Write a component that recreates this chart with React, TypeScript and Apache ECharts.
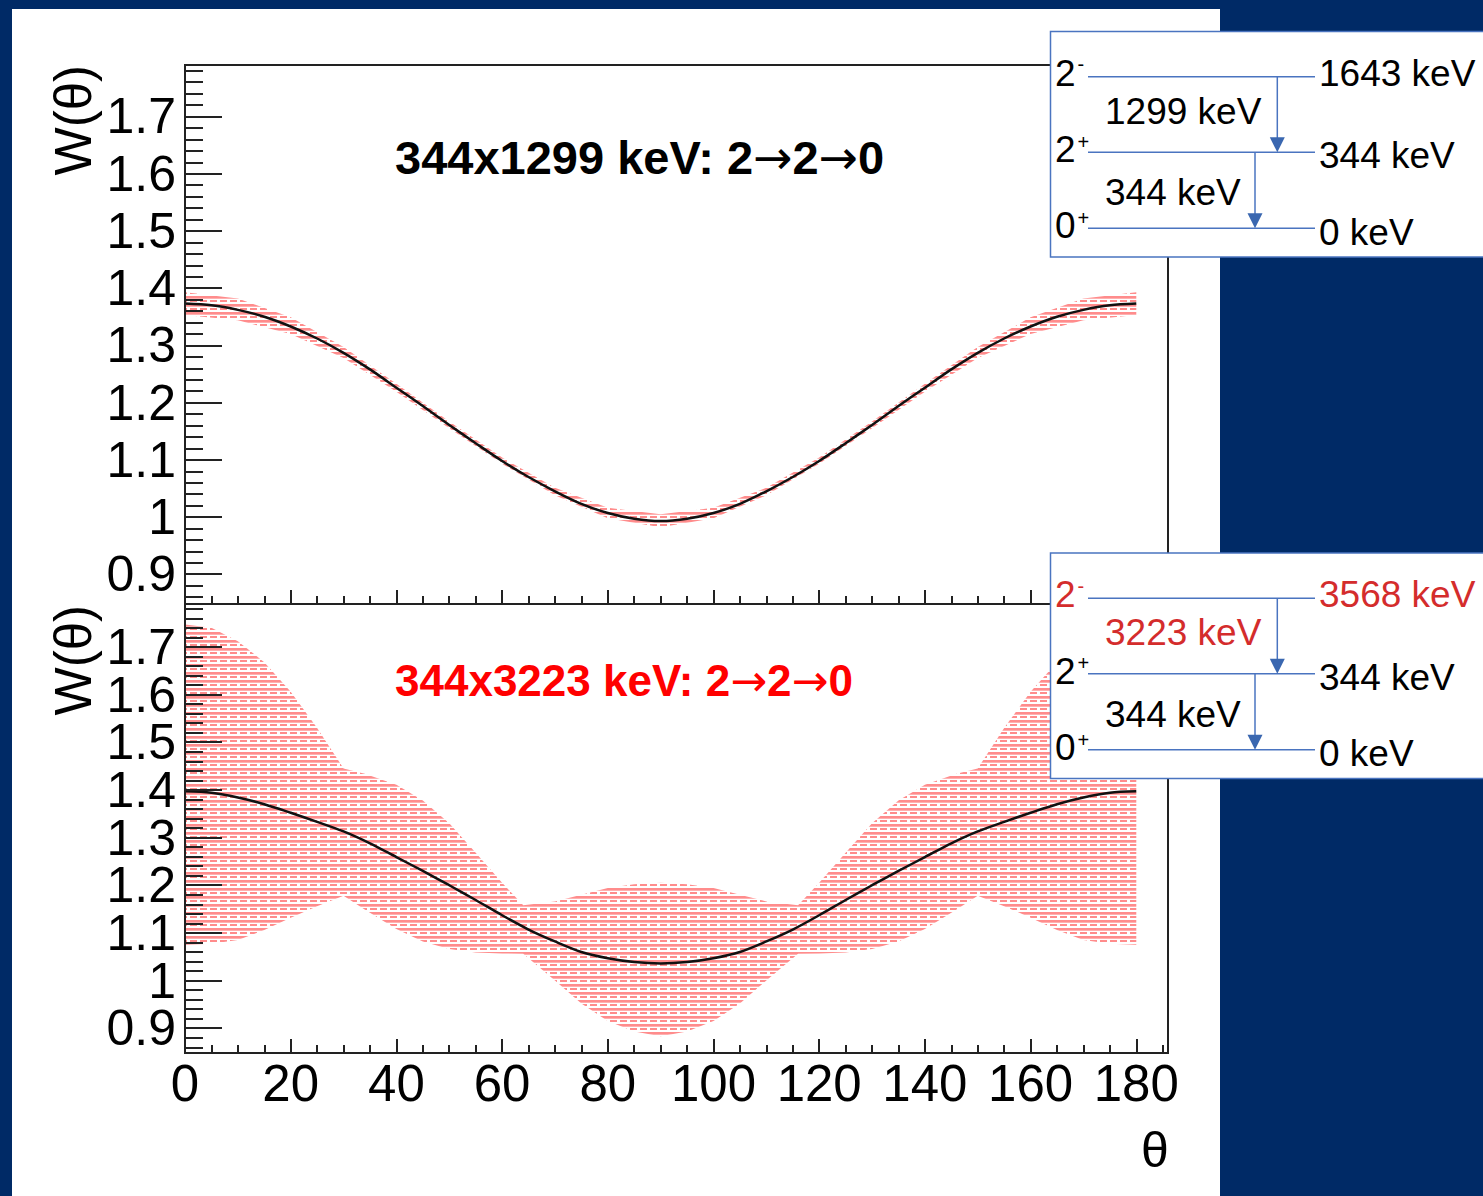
import React, { useEffect, useRef } from "react";
import * as echarts from "echarts";

// ---------- data ----------
const THETA_CURVE = [0, 5, 10, 15, 20, 25, 30, 35, 40, 45, 50, 55, 60, 65, 70, 75, 80, 85, 90, 95, 100, 105, 110, 115, 120, 125, 130, 135, 140, 145, 150, 155, 160, 165, 170, 175, 180];

// 344x1299 keV
const W_1299 = [1.373, 1.370, 1.362, 1.350, 1.333, 1.312, 1.287, 1.258, 1.226, 1.194, 1.161, 1.129, 1.098, 1.070, 1.045, 1.023, 1.007, 0.997, 0.993, 0.997, 1.007, 1.023, 1.045, 1.070, 1.098, 1.129, 1.161, 1.194, 1.226, 1.258, 1.287, 1.312, 1.333, 1.350, 1.362, 1.370, 1.373];
const THETA_BAND_1299 = [0, 10, 20, 30, 40, 50, 60, 70, 80, 90, 100, 110, 120, 130, 140, 150, 160, 170, 180];
const BAND_1299_LO = [1.353, 1.344, 1.320, 1.278, 1.219, 1.155, 1.093, 1.038, 0.998, 0.982, 0.998, 1.038, 1.093, 1.155, 1.219, 1.278, 1.320, 1.344, 1.353];
const BAND_1299_HI = [1.393, 1.382, 1.349, 1.297, 1.233, 1.167, 1.104, 1.051, 1.016, 1.005, 1.016, 1.051, 1.104, 1.167, 1.233, 1.297, 1.349, 1.382, 1.393];

// 344x3223 keV
const W_3223 = [1.397, 1.394, 1.384, 1.370, 1.352, 1.333, 1.313, 1.288, 1.259, 1.230, 1.200, 1.169, 1.137, 1.107, 1.082, 1.060, 1.047, 1.039, 1.036, 1.039, 1.047, 1.060, 1.082, 1.107, 1.137, 1.169, 1.200, 1.230, 1.259, 1.288, 1.313, 1.333, 1.352, 1.370, 1.384, 1.394, 1.397];
const THETA_BAND_3223 = [0, 5, 10, 15, 20, 25, 30, 34, 40, 45, 50, 55, 60, 64, 70, 75, 80, 85, 90, 95, 100, 105, 110, 116, 120, 125, 130, 135, 140, 146, 150, 155, 160, 165, 170, 175, 180];
const BAND_3223_HI = [1.747, 1.740, 1.712, 1.668, 1.606, 1.530, 1.445, 1.434, 1.411, 1.378, 1.330, 1.268, 1.205, 1.158, 1.166, 1.180, 1.194, 1.202, 1.205, 1.202, 1.194, 1.180, 1.166, 1.158, 1.205, 1.268, 1.330, 1.378, 1.411, 1.434, 1.445, 1.530, 1.606, 1.668, 1.712, 1.740, 1.747];
const BAND_3223_LO = [1.075, 1.077, 1.085, 1.106, 1.132, 1.156, 1.178, 1.149, 1.108, 1.082, 1.066, 1.059, 1.057, 1.056, 1.000, 0.952, 0.915, 0.893, 0.883, 0.893, 0.915, 0.952, 1.000, 1.056, 1.057, 1.059, 1.066, 1.082, 1.108, 1.149, 1.178, 1.156, 1.132, 1.106, 1.085, 1.077, 1.075];

// tick labels
const X_LABELS = ["0", "20", "40", "60", "80", "100", "120", "140", "160", "180"];
const Y_LABELS = ["0.9", "1", "1.1", "1.2", "1.3", "1.4", "1.5", "1.6", "1.7"];

// titles
const TITLE_PARTS = ["2", "2", "0"];
const TITLE_TOP_PREFIX = "344x1299 keV: ";
const TITLE_BOTTOM_PREFIX = "344x3223 keV: ";
const Y_TITLE = "W(\u03b8)";
const X_TITLE = "\u03b8";

// level schemes
const SPINS = ["2", "2", "0"];
const PARITIES = ["-", "+", "+"];
const LEVELS_TOP = ["1643 keV", "344 keV", "0 keV"];
const GAMMAS_TOP = ["1299 keV", "344 keV"];
const LEVELS_BOTTOM = ["3568 keV", "344 keV", "0 keV"];
const GAMMAS_BOTTOM = ["3223 keV", "344 keV"];

// ---------- styling ----------
const FONT = '"Liberation Sans", Arial, Helvetica, sans-serif';
const AX = "#222";
const SCHEME_BLUE = "#4a74c0";
const SCHEME_RED = "#d42c2c";
const Y_MIN = 0.848;
const Y_MAX = 1.79;
const X_MAX = 186;

function makeHatch() {
  const w = 10;
  const h = 8;
  const c = document.createElement("canvas");
  c.width = w;
  c.height = h;
  const g = c.getContext("2d")!;
  g.fillStyle = "#ffffff";
  g.fillRect(0, 0, w, h);
  g.fillStyle = "#ff8c8c";
  g.fillRect(0, 0, w, 2);
  g.fillStyle = "#ffb0b0";
  g.fillRect(0, 2, w, 1);
  g.fillStyle = "#ff8c8c";
  g.fillRect(0, 4, 7, 2);
  return { image: c.toDataURL(), repeat: "repeat", imageWidth: w, imageHeight: h };
}

function xMajor(gridIndex: number, showLabels: boolean) {
  return {
    type: "value",
    gridIndex,
    min: 0,
    max: X_MAX,
    interval: 20,
    position: "bottom",
    axisLine: { show: true, onZero: false, lineStyle: { color: AX, width: 2 } },
    axisTick: { show: true, inside: true, length: 14, lineStyle: { color: AX, width: 2 } },
    axisLabel: {
      show: showLabels,
      showMaxLabel: false,
      formatter: (v: number) => (X_LABELS.includes(String(v)) ? String(v) : ""),
      color: "#000",
      fontSize: 51,
      fontFamily: FONT,
      margin: 5,
    },
    splitLine: { show: false },
    z: 10,
  };
}

function xMinor(gridIndex: number) {
  return {
    type: "value",
    gridIndex,
    min: 0,
    max: X_MAX,
    interval: 5,
    position: "bottom",
    axisLine: { show: false, onZero: false },
    axisTick: { show: true, inside: true, length: 8, lineStyle: { color: AX, width: 2 } },
    axisLabel: { show: false },
    splitLine: { show: false },
    z: 10,
  };
}

function yMajor(gridIndex: number) {
  return {
    type: "value",
    gridIndex,
    min: Y_MIN,
    max: Y_MAX,
    splitNumber: 9,
    position: "left",
    axisLine: { show: true, onZero: false, lineStyle: { color: AX, width: 2 } },
    axisTick: { show: true, inside: true, length: 37, lineStyle: { color: AX, width: 2 } },
    axisLabel: {
      show: true,
      showMinLabel: false,
      showMaxLabel: false,
      formatter: (v: number) => {
        const r = Math.round(v * 10);
        const s = String(r / 10);
        return Math.abs(v * 10 - r) < 1e-6 && Y_LABELS.includes(s) ? s : "";
      },
      color: "#000",
      fontSize: 50,
      fontFamily: FONT,
      margin: 9,
    },
    splitLine: { show: false },
    z: 10,
  };
}

function yMinor(gridIndex: number) {
  return {
    type: "value",
    gridIndex,
    min: Y_MIN,
    max: Y_MAX,
    splitNumber: 47,
    position: "left",
    axisLine: { show: false, onZero: false },
    axisTick: { show: true, inside: true, length: 18, lineStyle: { color: AX, width: 2 } },
    axisLabel: { show: false },
    splitLine: { show: false },
    z: 10,
  };
}

function bandSeries(axisIndex: number, theta: number[], lo: number[], hi: number[], hatch: any) {
  return {
    type: "custom",
    xAxisIndex: axisIndex,
    yAxisIndex: axisIndex,
    data: theta.map((t, i) => [t, lo[i], hi[i]]),
    encode: { x: 0, y: [1, 2] },
    clip: true,
    silent: true,
    z: 2,
    renderItem: (params: any, api: any) => {
      if (params.dataIndex !== 0) return null;
      const top = theta.map((t, i) => api.coord([t, hi[i]]));
      const bot = theta.map((t, i) => api.coord([t, lo[i]])).reverse();
      return {
        type: "polygon",
        shape: { points: top.concat(bot) },
        style: { fill: hatch, stroke: null },
      };
    },
  };
}

function curveSeries(axisIndex: number, theta: number[], w: number[]) {
  return {
    type: "line",
    xAxisIndex: axisIndex,
    yAxisIndex: axisIndex,
    data: theta.map((t, i) => [t, w[i]]),
    symbol: "none",
    smooth: 0.3,
    lineStyle: { color: "#111", width: 2.5 },
    silent: true,
    z: 5,
  };
}

function txt(x: number, y: number, text: string, opts: any = {}) {
  return {
    type: "text",
    x,
    y,
    z: opts.z ?? 100,
    rotation: opts.rotation ?? 0,
    silent: true,
    style: {
      text,
      fill: opts.fill ?? "#000",
      fontSize: opts.size ?? 37,
      fontFamily: FONT,
      fontWeight: opts.weight ?? "normal",
      align: opts.align ?? "left",
      verticalAlign: opts.va ?? "middle",
      textAlign: opts.align ?? "left",
      textVerticalAlign: opts.va ?? "middle",
      rich: opts.rich,
    },
  };
}

function titleText(x: number, y: number, prefix: string, size: number, fill: string) {
  const rich = {
    t: { fontSize: size, fontFamily: FONT, fontWeight: "bold", fill, color: fill },
    a: { fontSize: size, fontFamily: '"DejaVu Sans", sans-serif', fontWeight: "normal", fill, color: fill },
  };
  const s = `{t|${prefix}${TITLE_PARTS[0]}}{a|\u2192}{t|${TITLE_PARTS[1]}}{a|\u2192}{t|${TITLE_PARTS[2]}}`;
  return txt(x, y, s, { size, weight: "bold", fill, z: 10, rich });
}

function scheme(oy: number, levels: string[], gammas: string[], red: boolean) {
  const els: any[] = [];
  els.push({
    type: "rect",
    z: 99,
    silent: true,
    shape: { x: 1050.5, y: 31.5 + oy, width: 460, height: 225.5 },
    style: { fill: "#fff", stroke: SCHEME_BLUE, lineWidth: 1.5 },
  });
  const lineY = [76.7, 152.3, 228.3];
  lineY.forEach((ly) => {
    els.push({
      type: "line",
      z: 100,
      silent: true,
      shape: { x1: 1088, y1: ly + oy, x2: 1315, y2: ly + oy },
      style: { stroke: SCHEME_BLUE, lineWidth: 1.5 },
    });
  });
  const arrows = [
    { x: 1277.3, y1: 76.7, y2: 152.3 },
    { x: 1255, y1: 152.3, y2: 228.3 },
  ];
  arrows.forEach((a) => {
    els.push({
      type: "line",
      z: 100,
      silent: true,
      shape: { x1: a.x, y1: a.y1 + oy, x2: a.x, y2: a.y2 - 12 + oy },
      style: { stroke: SCHEME_BLUE, lineWidth: 1.5 },
    });
    els.push({
      type: "polygon",
      z: 100,
      silent: true,
      shape: {
        points: [
          [a.x - 7.5, a.y2 - 15 + oy],
          [a.x + 7.5, a.y2 - 15 + oy],
          [a.x, a.y2 + oy],
        ],
      },
      style: { fill: "#3a67b0" },
    });
  });
  const spinY = [73, 149.5, 225.5];
  const supY = [64, 141.7, 218.3];
  const levY = [73, 155.5, 232];
  const gamY = [111, 192.5];
  for (let i = 0; i < 3; i++) {
    const c = red && i === 0 ? SCHEME_RED : "#000";
    els.push(txt(1055, spinY[i] + oy, SPINS[i], { fill: c }));
    els.push(txt(1077.5, supY[i] + oy, PARITIES[i], { fill: c, size: 20 }));
    els.push(txt(1319, levY[i] + oy, levels[i], { fill: c }));
  }
  for (let i = 0; i < 2; i++) {
    const c = red && i === 0 ? SCHEME_RED : "#000";
    els.push(txt(1105, gamY[i] + oy, gammas[i], { fill: c }));
  }
  return els;
}

function buildOption() {
  const hatch = makeHatch();
  return {
    animation: false,
    backgroundColor: "transparent",
    grid: [
      { left: 185, top: 65, width: 983, height: 539, show: true, borderColor: AX, borderWidth: 2, backgroundColor: "transparent" },
      { left: 185, top: 604, width: 983, height: 449, show: true, borderColor: AX, borderWidth: 2, backgroundColor: "transparent" },
    ],
    xAxis: [xMajor(0, false), xMinor(0), xMajor(1, true), xMinor(1)],
    yAxis: [yMajor(0), yMinor(0), yMajor(1), yMinor(1)],
    series: [
      bandSeries(0, THETA_BAND_1299, BAND_1299_LO, BAND_1299_HI, hatch),
      curveSeries(0, THETA_CURVE, W_1299),
      bandSeries(2, THETA_BAND_3223, BAND_3223_LO, BAND_3223_HI, hatch),
      curveSeries(2, THETA_CURVE, W_3223),
    ],
    graphic: [
      titleText(395, 157, TITLE_TOP_PREFIX, 47, "#000"),
      titleText(395, 680, TITLE_BOTTOM_PREFIX, 44, "#ff0000"),
      txt(73, 65, Y_TITLE, { size: 51, align: "right", rotation: Math.PI / 2, z: 10 }),
      txt(73, 605, Y_TITLE, { size: 51, align: "right", rotation: Math.PI / 2, z: 10 }),
      txt(1155, 1150, X_TITLE, { size: 50, align: "center", z: 10 }),
      ...scheme(0, LEVELS_TOP, GAMMAS_TOP, false),
      ...scheme(521.5, LEVELS_BOTTOM, GAMMAS_BOTTOM, true),
    ],
  };
}

export default function App() {
  const ref = useRef<HTMLDivElement>(null);
  useEffect(() => {
    const chart = echarts.init(ref.current!, null, { renderer: "svg", width: 1483, height: 1196 });
    chart.setOption(buildOption() as any);
    return () => chart.dispose();
  }, []);
  return (
    <div style={{ position: "fixed", left: 0, top: 0, width: 1483, height: 1196, background: "#002a66", overflow: "hidden" }}>
      <div style={{ position: "absolute", left: 12, top: 9, width: 1208, height: 1187, background: "#ffffff" }} />
      <div ref={ref} style={{ position: "absolute", left: 0, top: 0, width: 1483, height: 1196 }} />
    </div>
  );
}
